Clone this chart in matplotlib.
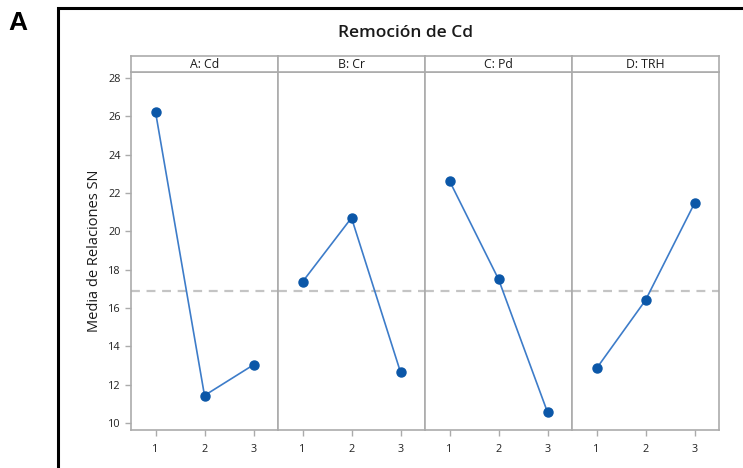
import matplotlib
matplotlib.use('Agg')
import matplotlib.pyplot as plt
from matplotlib.patches import Rectangle

# Datos (medias de relaciones SN por nivel)
factores = ['A: Cd', 'B: Cr', 'C: Pd', 'D: TRH']
niveles = [1, 2, 3]
sn_cd = [26.23, 11.43, 13.03]
sn_cr = [17.36, 20.70, 12.65]
sn_pd = [22.63, 17.50, 10.56]
sn_trh = [12.84, 16.40, 21.46]
media_global = 16.89
yticks = [10, 12, 14, 16, 18, 20, 22, 24, 26, 28]

series = [sn_cd, sn_cr, sn_pd, sn_trh]

plt.rcParams['font.family'] = ['Open Sans', 'DejaVu Sans']

W, H = 743, 468
fig = plt.figure(figsize=(W / 100, H / 100), dpi=100)

GRIS = '#ABABAB'
AZUL_LINEA = '#3D7CC9'
AZUL_PUNTO = '#0B57A8'

x0, x1 = 131, 719
y_top, y_bot, y_strip = 72, 430, 56
pw = (x1 - x0) / 4

for i, (fac, vals) in enumerate(zip(factores, series)):
    left = (x0 + i * pw) / W
    ax = fig.add_axes([left, 1 - y_bot / H, pw / W, (y_bot - y_top) / H])
    ax.axhline(media_global, color='#C4C4C4', ls=(0, (4, 3)), lw=1.6, zorder=1)
    ax.plot(niveles, vals, color=AZUL_LINEA, lw=1.2, zorder=2)
    ax.plot(niveles, vals, 'o', color=AZUL_PUNTO, ms=6.5, zorder=3)
    ax.set_xlim(0.5, 3.5)
    ax.set_ylim(9.63, 28.31)
    ax.set_xticks(niveles)
    ax.set_yticks(yticks)
    for s in ax.spines.values():
        s.set_color(GRIS)
        s.set_linewidth(1.2)
    ax.tick_params(axis='both', colors=GRIS, labelcolor='#222222',
                   labelsize=7.8, length=4, width=1)
    ax.tick_params(axis='x', pad=6)
    if i == 0:
        ax.set_ylabel('Media de Relaciones SN', fontsize=10.5, color='#1a1a1a', labelpad=4)
    else:
        ax.tick_params(axis='y', left=False, labelleft=False)

    # franja con el nombre del factor
    sax = fig.add_axes([left, 1 - y_top / H, pw / W, (y_top - y_strip) / H])
    sax.set_xticks([])
    sax.set_yticks([])
    for s in sax.spines.values():
        s.set_color(GRIS)
        s.set_linewidth(1.2)
    sax.text(0.5, 0.45, fac, ha='center', va='center', fontsize=8.8,
             color='#1a1a1a', transform=sax.transAxes)

fig.text(405 / W, 1 - 33 / H, 'Remoción de Cd', ha='center', va='center',
         fontsize=12.5, fontweight='semibold', color='#1a1a1a')
fig.text(8 / W, 1 - 23 / H, 'A', ha='left', va='center', fontsize=19,
         fontweight='bold', family=['Liberation Sans', 'DejaVu Sans'])

# marco negro del panel
fig.patches.append(Rectangle((58 / W, -0.1), 1.2, 1 - 8 / H + 0.1,
                             transform=fig.transFigure, fill=False,
                             edgecolor='black', lw=2.2))

fig.savefig('out.png', dpi=100)
